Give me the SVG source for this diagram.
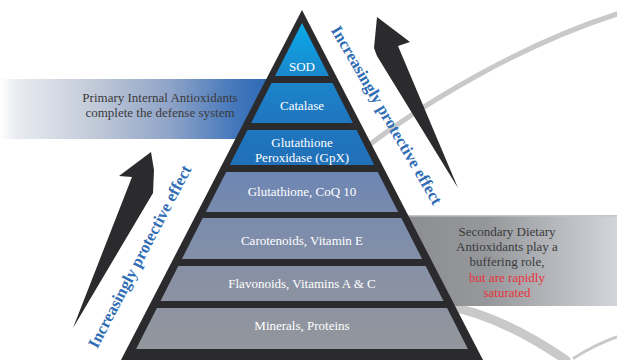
<svg xmlns="http://www.w3.org/2000/svg" width="617" height="360" viewBox="0 0 617 360">
<defs>
<linearGradient id="gLeftBand" gradientUnits="userSpaceOnUse" x1="0" y1="0" x2="275" y2="0">
<stop offset="0" stop-color="#ffffff"/>
<stop offset="0.06" stop-color="#e9ecf1"/>
<stop offset="0.35" stop-color="#c0c9d8"/>
<stop offset="0.62" stop-color="#8ea3c7"/>
<stop offset="0.86" stop-color="#4276bb"/>
<stop offset="1" stop-color="#2a68b4"/>
</linearGradient>
<linearGradient id="gRightBand" gradientUnits="userSpaceOnUse" x1="400" y1="0" x2="617" y2="0">
<stop offset="0" stop-color="#8b8d91"/>
<stop offset="0.4" stop-color="#95979b"/>
<stop offset="1" stop-color="#d2d5d9"/>
</linearGradient>
<linearGradient id="gBlue" gradientUnits="userSpaceOnUse" x1="0" y1="23" x2="0" y2="165">
<stop offset="0" stop-color="#0aa9e9"/>
<stop offset="0.35" stop-color="#1a89cd"/>
<stop offset="0.62" stop-color="#1e79c2"/>
<stop offset="1" stop-color="#2170b8"/>
</linearGradient>
<linearGradient id="gGray" gradientUnits="userSpaceOnUse" x1="0" y1="172" x2="0" y2="349">
<stop offset="0" stop-color="#6d86b3"/>
<stop offset="0.3" stop-color="#7c8cac"/>
<stop offset="0.6" stop-color="#8891a4"/>
<stop offset="1" stop-color="#93969b"/>
</linearGradient>
<style>
.tier text{font-family:"Liberation Serif","Times New Roman",serif;font-size:13px;fill:#ffffff;text-anchor:middle}
.lbl{font-family:"Liberation Serif","Times New Roman",serif;font-size:13px;fill:#3a3a3a;text-anchor:middle}
.red{fill:#e8333a}
.vert{font-family:"Liberation Serif","Times New Roman",serif;font-size:16.5px;font-weight:bold;fill:#2f6db4;text-anchor:middle}
.arrow{fill:#2b2a2d}
.curve{fill:none;stroke:#c9c9c9;stroke-linecap:round}
</style>
</defs>
<rect width="617" height="360" fill="#ffffff"/>

<g id="background-curves">
<path class="curve" d="M360,152 C420,105 520,45 617,14" stroke-width="5"/>
<path class="curve" d="M445,306 C485,312 525,332 566,360" stroke-width="9"/>
<path class="curve" d="M574,358 C590,348 602,342 617,337" stroke-width="3"/>
</g>

<g id="primary-band">
<rect x="0" y="79" width="300" height="60" fill="url(#gLeftBand)"/>
<text class="lbl" x="160" y="102">Primary Internal Antioxidants</text>
<text class="lbl" x="160" y="117">complete the defense system</text>
</g>

<g id="secondary-band">
<rect x="300" y="215" width="317" height="91" fill="url(#gRightBand)"/>
<rect x="300" y="215" width="317" height="1.5" fill="#c4c6c9"/>
<text class="lbl" x="507" y="236">Secondary Dietary</text>
<text class="lbl" x="507" y="251">Antioxidants play a</text>
<text class="lbl" x="507" y="266">buffering role,</text>
<text class="lbl red" x="507" y="282">but are rapidly</text>
<text class="lbl red" x="507" y="297">saturated</text>
</g>

<g id="pyramid-frame">
<polygon points="302,10 483,360 121,360" fill="#2b2a2d"/>
</g>

<g id="tier-sod" class="tier">
<polygon points="302,23 329,76 275,76" fill="url(#gBlue)"/>
<text x="302" y="71">SOD</text>
</g>
<g id="tier-catalase" class="tier">
<polygon points="271.5,83 332.5,83 352.9,123 251.1,123" fill="url(#gBlue)"/>
<text x="302" y="110">Catalase</text>
</g>
<g id="tier-gpx" class="tier">
<polygon points="247.5,130 356.5,130 374.3,165 229.7,165" fill="url(#gBlue)"/>
<text x="302" y="147">Glutathione</text>
<text x="302" y="162">Peroxidase (GpX)</text>
</g>
<g id="tier-coq10" class="tier">
<polygon points="226.2,172 377.8,172 398.2,212 205.8,212" fill="url(#gGray)"/>
<text x="302" y="196">Glutathione, CoQ 10</text>
</g>
<g id="tier-carotenoids" class="tier">
<polygon points="202.7,218 401.3,218 422.1,259 181.9,259" fill="url(#gGray)"/>
<text x="302" y="245">Carotenoids, Vitamin E</text>
</g>
<g id="tier-flavonoids" class="tier">
<polygon points="178.3,266 425.7,266 443.5,301 160.5,301" fill="url(#gGray)"/>
<text x="302" y="288">Flavonoids, Vitamins A &amp; C</text>
</g>
<g id="tier-minerals" class="tier">
<polygon points="156.9,308 447.1,308 467.9,349 136.1,349" fill="url(#gGray)"/>
<text x="302" y="330">Minerals, Proteins</text>
</g>

<g id="connectors">
<polygon class="arrow" points="377,17 410,42 398,46 458,188 377,56 374,48"/>
<polygon class="arrow" points="151,152 119,176 132,177 73,328 153,193 154,170"/>
</g>

<g id="effect-labels">
<text class="vert" transform="translate(382,118) rotate(59.7)">Increasingly protective effect</text>
<text class="vert" transform="translate(144.5,259) rotate(-62.3)">Increasingly protective effect</text>
</g>
</svg>
